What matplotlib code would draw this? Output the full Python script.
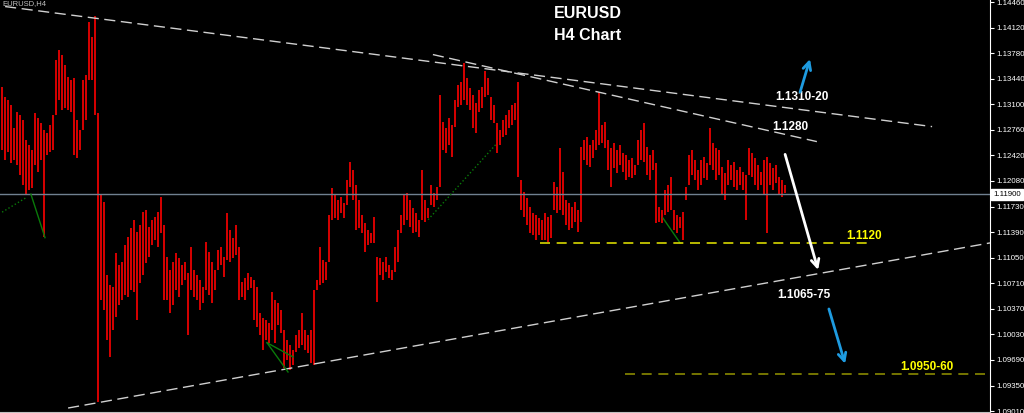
import numpy as np
import matplotlib.pyplot as plt
import matplotlib.transforms as mtransforms

# EURUSD H4 bars (high / low), oldest first
highs = [
    1.1333, 1.1320, 1.1316, 1.1309, 1.1278, 1.1300, 1.1296, 1.1289, 1.1262, 1.1256,
    1.1249, 1.1298, 1.1292, 1.1285, 1.1276, 1.1272, 1.1282, 1.1296, 1.1369, 1.1382,
    1.1376, 1.1362, 1.1346, 1.1342, 1.1345, 1.1289, 1.1276, 1.1342, 1.1349, 1.1420,
    1.1400, 1.1428, 1.1298, 1.1189, 1.1180, 1.1082, 1.1069, 1.1066, 1.1112, 1.1096,
    1.1100, 1.1122, 1.1133, 1.1145, 1.1156, 1.1140, 1.1149, 1.1166, 1.1169, 1.1146,
    1.1156, 1.1160, 1.1166, 1.1186, 1.1149, 1.1106, 1.1089, 1.1100, 1.1112, 1.1105,
    1.1096, 1.1100, 1.1085, 1.1120, 1.1089, 1.1082, 1.1076, 1.1066, 1.1126, 1.1113,
    1.1100, 1.1089, 1.1116, 1.1120, 1.1106, 1.1165, 1.1142, 1.1132, 1.1149, 1.1120,
    1.1073, 1.1078, 1.1085, 1.1080, 1.1076, 1.1066, 1.1032, 1.1025, 1.1022, 1.1018,
    1.1060, 1.1049, 1.1045, 1.1036, 1.1009, 1.0996, 1.0989, 1.0982, 1.1002, 1.1009,
    1.1032, 1.1009, 1.1002, 1.1009, 1.1062, 1.1076, 1.1120, 1.1102, 1.1100, 1.1162,
    1.1198, 1.1189, 1.1182, 1.1186, 1.1178, 1.1209, 1.1233, 1.1222, 1.1202, 1.1182,
    1.1162, 1.1152, 1.1142, 1.1138, 1.1160, 1.1106, 1.1105, 1.1100, 1.1106, 1.1096,
    1.1089, 1.1120, 1.1142, 1.1162, 1.1189, 1.1192, 1.1182, 1.1172, 1.1165, 1.1156,
    1.1222, 1.1182, 1.1172, 1.1202, 1.1192, 1.1200, 1.1322, 1.1286, 1.1278, 1.1292,
    1.1282, 1.1316, 1.1336, 1.1340, 1.1365, 1.1345, 1.1332, 1.1322, 1.1312, 1.1329,
    1.1333, 1.1354, 1.1345, 1.1320, 1.1309, 1.1285, 1.1276, 1.1289, 1.1296, 1.1302,
    1.1309, 1.1312, 1.1340, 1.1209, 1.1193, 1.1185, 1.1173, 1.1165, 1.1162, 1.1158,
    1.1156, 1.1165, 1.1160, 1.1162, 1.1206, 1.1200, 1.1252, 1.1220, 1.1182, 1.1178,
    1.1173, 1.1180, 1.1169, 1.1253, 1.1262, 1.1266, 1.1256, 1.1262, 1.1276, 1.1326,
    1.1282, 1.1286, 1.1262, 1.1252, 1.1258, 1.1249, 1.1256, 1.1245, 1.1242, 1.1236,
    1.1238, 1.1229, 1.1262, 1.1276, 1.1285, 1.1253, 1.1242, 1.1249, 1.1232, 1.1173,
    1.1169, 1.1196, 1.1202, 1.1213, 1.1169, 1.1162, 1.1160, 1.1166, 1.1200, 1.1242,
    1.1249, 1.1236, 1.1222, 1.1236, 1.1240, 1.1232, 1.1278, 1.1258, 1.1252, 1.1249,
    1.1226, 1.1218, 1.1236, 1.1229, 1.1233, 1.1222, 1.1226, 1.1220, 1.1216, 1.1252,
    1.1245, 1.1238, 1.1229, 1.1220, 1.1236, 1.1240, 1.1232, 1.1225, 1.1229, 1.1213,
    1.1209, 1.1202,
]
lows = [
    1.1249, 1.1236, 1.1246, 1.1232, 1.1236, 1.1229, 1.1216, 1.1202, 1.1189, 1.1196,
    1.1198, 1.1229, 1.1220, 1.1236, 1.1133, 1.1242, 1.1246, 1.1249, 1.1296, 1.1316,
    1.1302, 1.1305, 1.1302, 1.1300, 1.1242, 1.1238, 1.1249, 1.1276, 1.1289, 1.1342,
    1.1342, 1.1296, 1.0913, 1.1049, 1.1036, 1.0996, 1.0973, 1.1009, 1.1026, 1.1042,
    1.1049, 1.1056, 1.1053, 1.1062, 1.1060, 1.1022, 1.1072, 1.1082, 1.1098, 1.1106,
    1.1122, 1.1129, 1.1120, 1.1138, 1.1049, 1.1049, 1.1032, 1.1042, 1.1062, 1.1053,
    1.1069, 1.1076, 1.1002, 1.1062, 1.1053, 1.1049, 1.1036, 1.1045, 1.1062, 1.1056,
    1.1045, 1.1062, 1.1089, 1.1096, 1.1080, 1.1102, 1.1100, 1.1105, 1.1109, 1.1049,
    1.1053, 1.1049, 1.1062, 1.1065, 1.1022, 1.1013, 1.1002, 1.0982, 1.0996, 1.0992,
    1.1009, 1.0992, 1.1016, 1.1005, 1.0958, 1.0969, 1.0956, 1.0962, 1.0980, 1.0985,
    1.0989, 1.0982, 1.0978, 1.0965, 1.0962, 1.1062, 1.1069, 1.1072, 1.1076, 1.1100,
    1.1156, 1.1158, 1.1156, 1.1165, 1.1158, 1.1176, 1.1200, 1.1182, 1.1142, 1.1145,
    1.1138, 1.1113, 1.1122, 1.1125, 1.1125, 1.1046, 1.1082, 1.1076, 1.1086, 1.1078,
    1.1076, 1.1086, 1.1100, 1.1138, 1.1149, 1.1156, 1.1146, 1.1138, 1.1140, 1.1133,
    1.1156, 1.1153, 1.1158, 1.1176, 1.1173, 1.1182, 1.1200, 1.1249, 1.1245, 1.1256,
    1.1240, 1.1280, 1.1306, 1.1309, 1.1316, 1.1309, 1.1302, 1.1278, 1.1272, 1.1300,
    1.1305, 1.1320, 1.1322, 1.1289, 1.1285, 1.1245, 1.1256, 1.1266, 1.1269, 1.1278,
    1.1282, 1.1289, 1.1213, 1.1169, 1.1160, 1.1149, 1.1138, 1.1136, 1.1129, 1.1136,
    1.1129, 1.1129, 1.1126, 1.1132, 1.1169, 1.1165, 1.1169, 1.1162, 1.1149, 1.1142,
    1.1145, 1.1153, 1.1140, 1.1153, 1.1236, 1.1229, 1.1226, 1.1238, 1.1249, 1.1256,
    1.1258, 1.1252, 1.1222, 1.1200, 1.1225, 1.1218, 1.1229, 1.1220, 1.1209, 1.1213,
    1.1212, 1.1216, 1.1229, 1.1236, 1.1233, 1.1216, 1.1209, 1.1222, 1.1152, 1.1153,
    1.1152, 1.1162, 1.1166, 1.1169, 1.1142, 1.1138, 1.1145, 1.1129, 1.1182, 1.1202,
    1.1216, 1.1209, 1.1196, 1.1202, 1.1212, 1.1209, 1.1229, 1.1222, 1.1209, 1.1216,
    1.1189, 1.1182, 1.1202, 1.1209, 1.1200, 1.1196, 1.1202, 1.1196, 1.1156, 1.1216,
    1.1213, 1.1202, 1.1196, 1.1202, 1.1189, 1.1138, 1.1202, 1.1196, 1.1205, 1.1189,
    1.1186, 1.1192,
]

last_price = 1.1190
y_ticks = [1.14460, 1.14120, 1.13780, 1.13440, 1.13100, 1.12760, 1.12420, 1.12080,
           1.11730, 1.11390, 1.11050, 1.10710, 1.10370, 1.10030, 1.09690, 1.09350, 1.09010]

# drawn objects: trend lines (bar index, price)
trend_lines = [
    ((1.2, 1.1440), (310.2, 1.1280)),
    ((143.8, 1.1376), (271.8, 1.1260)),
    ((22.2, 1.0905), (329.5, 1.1125)),
]
zigzag = [
    ([0.2, 8.5], [1.1166, 1.1186], ':'),
    ([9.8, 14.5], [1.1190, 1.1132], '-'),
    ([88.5, 95.5], [1.0992, 1.0953], '-'),
    ([88.5, 97.2], [1.0992, 1.0973], '-'),
    ([142.2, 165.2], [1.1156, 1.1258], ':'),
    ([220.5, 226.2], [1.1158, 1.1125], '-'),
]
levels = [(1.1125, 179.5, 288.8, '#d8d800'), (1.0950, 207.8, 330.0, '#8a8a00')]
labels = [
    ('1.1310-20', 266.8, 1.1319, 'white'),
    ('1.1280', 262.8, 1.1280, 'white'),
    ('1.1120', 287.5, 1.1134, '#ffff00'),
    ('1.1065-75', 267.5, 1.1056, 'white'),
    ('1.0950-60', 308.5, 1.0960, '#ffff00'),
]
arrows = [
    ((266.2, 1.1326), (269.5, 1.1370), '#1e9be0'),
    ((261.2, 1.1243), (272.2, 1.1089), 'white'),
    ((275.8, 1.1037), (281.2, 1.0964), '#1e9be0'),
]

fig = plt.figure(figsize=(10.24, 4.13), dpi=100, facecolor='black')
ax = fig.add_axes([0, 1 / 413, 990 / 1024, 412 / 413], facecolor='black')

idx = np.arange(len(highs))
ax.vlines(idx, lows, highs, colors='#d80000', lw=1.4)

ax.axhline(last_price, color='#708090', lw=1.0)

for (x0, y0), (x1, y1) in trend_lines:
    ax.plot([x0, x1], [y0, y1], color='#d0d0d0', lw=1.0, dashes=(8, 4))
for xs, ys, ls in zigzag:
    ax.plot(xs, ys, color='#0a7a0a', lw=1.0, ls=ls)
for price, x0, x1, col in levels:
    ax.plot([x0, x1], [price, price], color=col, lw=1.2, dashes=(6, 4))

for txt, x, y, col in labels:
    ax.text(x, y, txt, color=col, fontsize=8.5, fontweight='bold',
            family='Liberation Sans', ha='center', va='center')
for (x0, y0), (x1, y1), col in arrows:
    ax.annotate('', xy=(x1, y1), xytext=(x0, y0),
                arrowprops=dict(arrowstyle='->', color=col, lw=2,
                                mutation_scale=14, shrinkA=0, shrinkB=0))

ax.text(0.594, 0.968, 'EURUSD', transform=ax.transAxes, color='white', fontsize=11.5,
        fontweight='bold', family='Liberation Sans', ha='center', va='center')
ax.text(0.594, 0.915, 'H4 Chart', transform=ax.transAxes, color='white', fontsize=11.5,
        fontweight='bold', family='Liberation Sans', ha='center', va='center')
ax.text(0.002, 0.999, 'EURUSD,H4', transform=ax.transAxes, color='#c0c0c0', fontsize=5.5,
        family='Liberation Sans', ha='left', va='top')

ax.set_xlim(-0.5, 329.5)
ax.set_ylim(1.08997, 1.14487)
ax.set_xticks([])
ax.yaxis.tick_right()
ax.set_yticks(y_ticks)
ax.set_yticklabels([f'{t:.5f}' for t in y_ticks])
ax.tick_params(axis='y', colors='white', labelsize=5.7, length=3, pad=1.5)
for lab in ax.get_yticklabels():
    lab.set_family('Liberation Sans')
for side in ['top', 'left']:
    ax.spines[side].set_visible(False)
ax.spines['right'].set_color('white')
ax.spines['bottom'].set_color('#c0c0c0')

trans = mtransforms.blended_transform_factory(ax.transAxes, ax.transData)
ax.text(1.003, last_price, f'{last_price:.5f}', transform=trans, color='black',
        fontsize=5.7, family='Liberation Sans', ha='left', va='center',
        bbox=dict(boxstyle='square,pad=0.25', facecolor='white', edgecolor='white'))

fig.savefig('out.png', dpi=100, facecolor='black')
